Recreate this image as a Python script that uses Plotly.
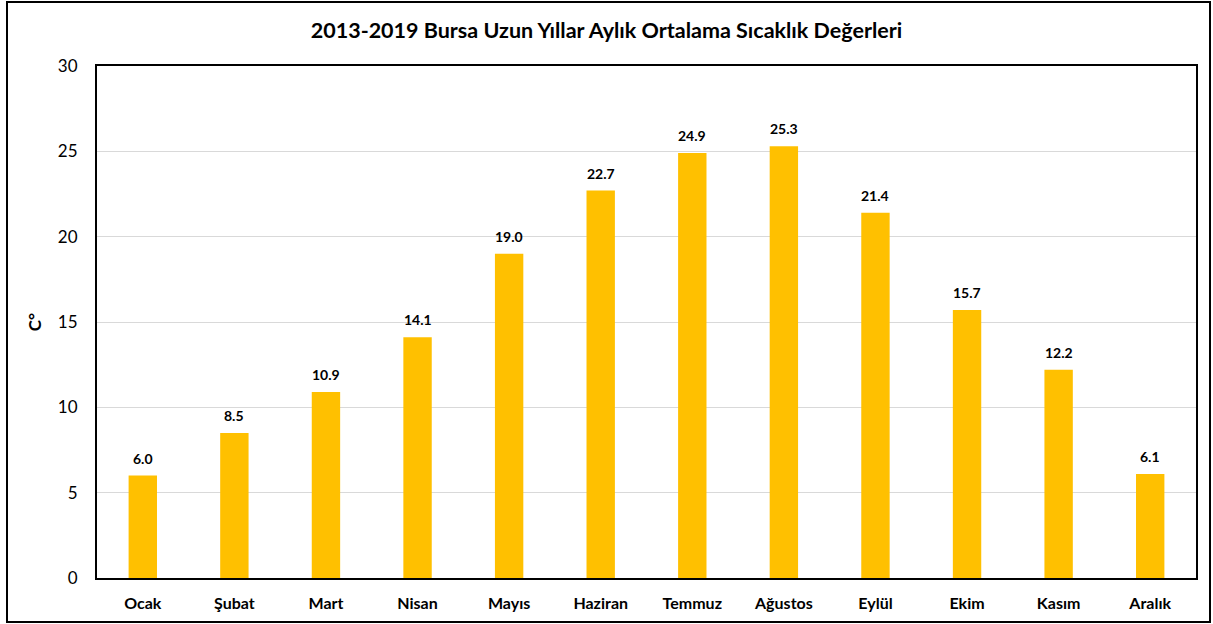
import plotly.graph_objects as go

months = ["Ocak", "Şubat", "Mart", "Nisan", "Mayıs", "Haziran", "Temmuz", "Ağustos", "Eylül", "Ekim", "Kasım", "Aralık"]
temps = [6.0, 8.5, 10.9, 14.1, 19.0, 22.7, 24.9, 25.3, 21.4, 15.7, 12.2, 6.1]
title = "2013-2019 Bursa Uzun Yıllar Aylık Ortalama Sıcaklık Değerleri"
y_ticks = [0, 5, 10, 15, 20, 25, 30]

FONT = "Lato"
W, H = 1213, 624
L, R, T, B = 97, 17, 66, 46
pw, ph = W - L - R, H - T - B

fig = go.Figure(go.Bar(
    x=months, y=temps,
    marker=dict(color="#FFC000", line=dict(width=0)),
    width=0.31,
    hoverinfo="x+y",
))

for m, v in zip(months, temps):
    fig.add_annotation(x=m, y=v, text=f"<b>{v:.1f}</b>", showarrow=False,
                       yanchor="bottom", yshift=7,
                       font=dict(family=FONT, size=14, color="#000000"))

def px_x(x):
    return (x - L) / pw

def px_y(y):
    return (H - B - y) / ph

fig.update_layout(
    width=W, height=H,
    margin=dict(l=L, r=R, t=T, b=B),
    paper_bgcolor="white", plot_bgcolor="white",
    font=dict(family=FONT, color="#000000"),
    title=dict(text="<b>" + title + "</b>", x=0.5, xanchor="center", y=1 - 30 / H, yanchor="middle",
               font=dict(family=FONT, size=21.5, color="#000000")),
    showlegend=False,
    xaxis=dict(showline=True, linecolor="black", linewidth=2, mirror=True, ticks="",
               tickfont=dict(family=FONT, size=16, color="#000000", weight="bold"), ticklabelstandoff=10),
    yaxis=dict(range=[0, 30], tickvals=y_ticks, showgrid=True, gridcolor="#D9D9D9", gridwidth=1,
               showline=True, linecolor="black", linewidth=2, mirror=True, ticks="",
               tickfont=dict(family=FONT, size=17, color="#000000"), ticklabelstandoff=14,
               title=dict(text="C°", font=dict(family=FONT, size=17, color="#000000", weight="bold"), standoff=12),
               zeroline=False),
    shapes=[dict(type="rect", xref="paper", yref="paper",
                 x0=px_x(7), x1=px_x(1210), y0=px_y(622), y1=px_y(2),
                 line=dict(color="black", width=2), fillcolor="rgba(0,0,0,0)", layer="below")],
)

fig.write_html("out.html", config={"displayModeBar": False},
               post_script="document.body.style.margin='0';document.body.style.overflow='hidden';")
